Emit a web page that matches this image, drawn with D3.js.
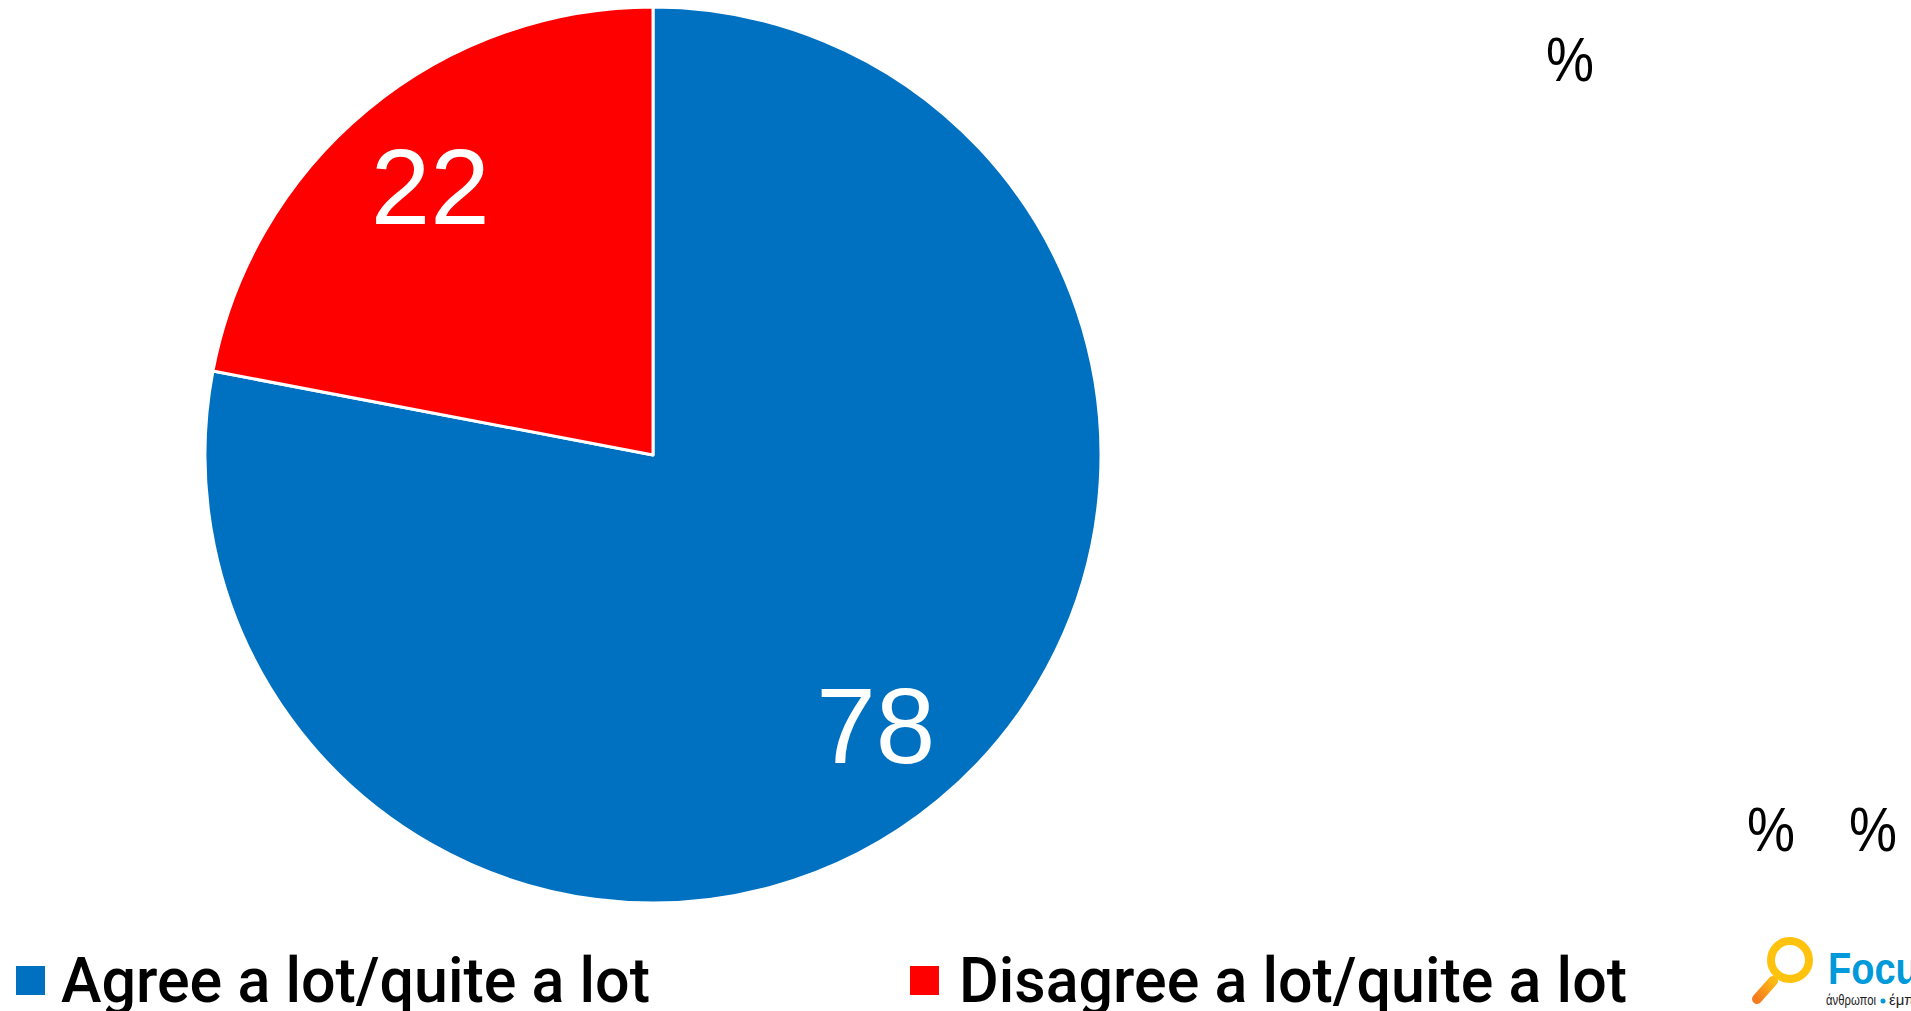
<!DOCTYPE html>
<html>
<head>
<meta charset="utf-8">
<script src="https://cdn.jsdelivr.net/npm/d3@7/dist/d3.min.js"></script>
<style>
  html, body { margin: 0; padding: 0; background: #fff; }
  svg { display: block; }
</style>
</head>
<body>
<svg id="chart" width="1911" height="1011"></svg>
<script>
// Survey answer shares (%)
const categories = ["Agree a lot/quite a lot", "Disagree a lot/quite a lot"];
const values = [78, 22];
const colors = ["#0070C0", "#FF0000"];

const svg = d3.select("#chart");

const cx = 653, cy = 455, radius = 448;

const pie = d3.pie().sort(null).value(d => d.value);
const arcs = pie(categories.map((c, i) => ({ name: c, value: values[i], color: colors[i] })));

const arc = d3.arc().innerRadius(0).outerRadius(radius);
const labelArc = d3.arc().innerRadius(radius * 0.78).outerRadius(radius * 0.78);

const g = svg.append("g").attr("transform", `translate(${cx},${cy})`);

g.selectAll("path.slice")
  .data(arcs)
  .join("path")
  .attr("class", "slice")
  .attr("d", arc)
  .attr("fill", d => d.data.color)
  .attr("stroke", "#fff")
  .attr("stroke-width", 3)
  .attr("stroke-linejoin", "round");

g.selectAll("text.val")
  .data(arcs)
  .join("text")
  .attr("class", "val")
  .attr("x", d => labelArc.centroid(d)[0])
  .attr("y", d => labelArc.centroid(d)[1])
  .attr("dy", "0.36em")
  .attr("text-anchor", "middle")
  .attr("font-family", "'Liberation Sans', Arial, sans-serif")
  .attr("font-size", 107)
  .attr("fill", "#fff")
  .text(d => d.data.value);

// Stray percent signs from the slide layout
const pctMarks = [[1570, 81], [1771, 851], [1873, 851]];
svg.selectAll("text.pct")
  .data(pctMarks)
  .join("text")
  .attr("class", "pct")
  .attr("x", d => d[0])
  .attr("y", d => d[1])
  .attr("text-anchor", "middle")
  .attr("font-family", "'Liberation Sans', Arial, sans-serif")
  .attr("font-size", 63)
  .attr("textLength", 48)
  .attr("lengthAdjust", "spacingAndGlyphs")
  .attr("fill", "#000")
  .text("%");

// Legend
const legendItems = [
  { x: 16, tx: 61, width: 589 },
  { x: 910, tx: 959, width: 668 }
];
const legend = svg.selectAll("g.legend")
  .data(categories)
  .join("g")
  .attr("class", "legend");

legend.append("rect")
  .attr("x", (d, i) => legendItems[i].x)
  .attr("y", 966)
  .attr("width", 29)
  .attr("height", 29)
  .attr("fill", (d, i) => colors[i]);

legend.append("text")
  .attr("x", (d, i) => legendItems[i].tx)
  .attr("y", 1002)
  .attr("font-family", "Roboto, 'Liberation Sans', Arial, sans-serif")
  .attr("font-weight", 500)
  .attr("font-size", 63)
  .attr("textLength", (d, i) => legendItems[i].width)
  .attr("lengthAdjust", "spacingAndGlyphs")
  .attr("fill", "#000")
  .text(d => d);

// Logo (partially cut at the right edge)
const logo = svg.append("g").attr("class", "logo");
const grad = svg.append("defs").append("linearGradient")
  .attr("id", "handleGrad").attr("x1", "0").attr("y1", "1").attr("x2", "1").attr("y2", "0");
grad.append("stop").attr("offset", "0%").attr("stop-color", "#F47B20");
grad.append("stop").attr("offset", "100%").attr("stop-color", "#FDB913");
logo.append("line")
  .attr("x1", 1757).attr("y1", 999).attr("x2", 1773).attr("y2", 981)
  .attr("stroke", "url(#handleGrad)").attr("stroke-width", 10).attr("stroke-linecap", "round");
logo.append("circle")
  .attr("cx", 1790).attr("cy", 960).attr("r", 19)
  .attr("fill", "#fff").attr("stroke", "#FFC20E").attr("stroke-width", 8);
logo.append("text")
  .attr("x", 1828).attr("y", 984)
  .attr("font-family", "'Liberation Sans', Arial, sans-serif")
  .attr("font-weight", "bold")
  .attr("font-size", 45)
  .attr("textLength", 112)
  .attr("lengthAdjust", "spacingAndGlyphs")
  .attr("fill", "#0099DA")
  .text("Focus");
logo.append("text")
  .attr("x", 1826).attr("y", 1005)
  .attr("font-family", "'Liberation Sans', Arial, sans-serif")
  .attr("font-size", 15)
  .attr("textLength", 50)
  .attr("lengthAdjust", "spacingAndGlyphs")
  .attr("fill", "#222")
  .text("άνθρωποι");
logo.append("circle")
  .attr("cx", 1883).attr("cy", 1001).attr("r", 2.5)
  .attr("fill", "#0099DA");
logo.append("text")
  .attr("x", 1889).attr("y", 1005)
  .attr("font-family", "'Liberation Sans', Arial, sans-serif")
  .attr("font-size", 15)
  .attr("fill", "#222")
  .text("έμπνευση");
</script>
</body>
</html>
